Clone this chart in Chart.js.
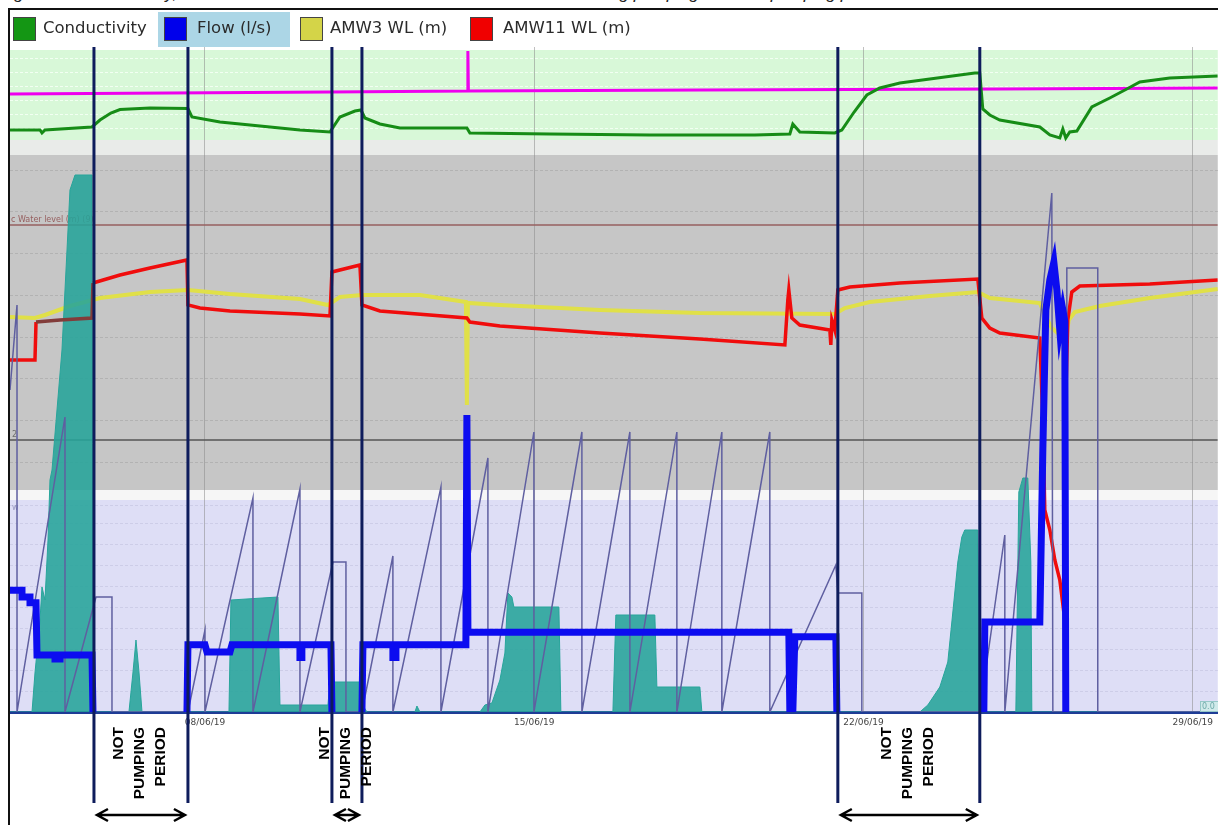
<!DOCTYPE html>
<html>
<head>
<meta charset="utf-8">
<script src="https://cdn.jsdelivr.net/npm/chart.js@4"></script>
<style>
  html, body { margin: 0; padding: 0; background: #fff; }
  #wrap { position: relative; width: 1218px; height: 825px; overflow: hidden; }
  #chart { position: absolute; left: 0; top: 0; }
  .caption { position: absolute; left: 0; top: -16px; font: italic 17px "Liberation Sans", sans-serif; color: #222; white-space: nowrap; }
  .frame { position: absolute; left: 8px; top: 8px; width: 1214px; height: 830px; border-top: 2px solid #111; border-left: 2px solid #111; pointer-events: none; }
  .hl { position: absolute; top: 12px; height: 35px; width: 132px; background: rgb(172, 214, 230); }
  .sw { position: absolute; top: 17px; width: 23px; height: 24px; border: 1px solid #444; box-sizing: border-box; }
  .lt { position: absolute; top: 18px; font: 16.5px "DejaVu Sans", sans-serif; color: #2b2b2b; white-space: nowrap; }
</style>
</head>
<body>
<div id="wrap">
  <div class="caption">Figure 12: Conductivity, flow and water level trends recorded at the bore field during pumping and non-pumping periods</div>
  <canvas id="chart" width="1218" height="825"></canvas>
  <div class="frame"></div>
  <div class="hl" style="left:158px"></div>
  <div class="sw" style="left:13px;background:rgb(20,150,20)"></div>
  <div class="lt" style="left:43px">Conductivity</div>
  <div class="sw" style="left:164px;background:rgb(0,0,235)"></div>
  <div class="lt" style="left:197px">Flow (l/s)</div>
  <div class="sw" style="left:300px;background:rgb(212,212,72)"></div>
  <div class="lt" style="left:330px">AMW3 WL (m)</div>
  <div class="sw" style="left:470px;background:rgb(240,0,0)"></div>
  <div class="lt" style="left:503px">AMW11 WL (m)</div>
</div>
<script>
// x values are days of June 2019
const dayMin = 3.855, dayMax = 29.531;
const tickDays = [8, 15, 22, 29];
const tickLabels = ['08/06/19', '15/06/19', '22/06/19', '29/06/19'];
const notPumping = [[5.640, 7.638], [10.699, 11.337], [21.454, 24.472]];

// conductivity (uS/cm)
const conductivity = [[3.855,1164],[4.493,1164],[4.535,1158],[4.599,1164],[5.598,1170],[5.768,1184],[6.000,1198],[6.193,1205],[6.831,1208],
  [7.638,1207],[7.723,1190],[8.319,1180],[8.957,1174],[10.019,1164],[10.657,1160],[10.869,1190],[11.188,1202],[11.316,1204],
  [11.400,1188],[11.719,1176],[12.144,1168],[13.568,1168],[13.632,1158],[15.333,1156],[17.458,1154],[19.690,1154],[20.434,1156],[20.497,1176],
  [20.646,1160],[21.390,1158],[21.539,1164],[21.800,1200],[22.071,1234],[22.347,1248],[22.772,1258],[24.366,1278],[24.472,1278],[24.536,1206],[24.685,1194],
  [24.897,1184],[25.748,1170],[25.961,1154],[26.173,1148],[26.237,1166],[26.300,1148],[26.385,1160],[26.535,1162],[26.854,1210],
  [27.235,1228],[27.597,1246],[27.874,1260],[28.511,1268],[29.531,1272]];
const ecLimit = [[3.855,1236],[10.657,1240],[13.589,1242],[13.589,1322],[13.600,1242],[18.521,1244],[24.897,1246],[29.531,1248]];

// water levels (m)
const amw11 = [[3.855,3.52],[4.386,3.52],[4.408,3.90],[4.918,3.92],[5.598,3.94],[5.619,4.29],[6.193,4.37],[6.831,4.44],[7.617,4.52],
  [7.638,4.07],[7.893,4.04],[8.531,4.01],[10.019,3.98],[10.657,3.96],[10.699,4.40],[11.294,4.47],[11.337,4.07],[11.719,4.01],
  [13.568,3.94],[13.632,3.90],[14.270,3.86],[16.395,3.79],[18.521,3.73],[20.328,3.67],[20.391,4.12],[20.412,4.22],[20.476,3.94],
  [20.646,3.87],[21.284,3.82],[21.305,3.67],[21.327,3.92],[21.390,3.82],[21.454,4.22],[21.709,4.25],[22.772,4.29],[24.430,4.33],
  [24.515,3.94],[24.685,3.84],[24.897,3.79],[25.748,3.74],[25.812,2.92],[25.854,2.02],[25.961,1.82],[26.067,1.52],[26.173,1.32],
  [26.258,1.00],[26.300,3.12],[26.343,3.92],[26.428,4.20],[26.598,4.26],[28.086,4.28],[29.531,4.32]];
const amw3 = [[3.855,3.95],[4.386,3.94],[4.599,3.97],[5.130,4.06],[5.768,4.14],[6.831,4.20],[7.638,4.22],[8.531,4.18],[10.019,4.13],
  [10.614,4.07],[10.869,4.15],[11.337,4.17],[12.570,4.17],[13.547,4.10],[13.568,3.07],[13.590,4.09],[14.270,4.07],[16.395,4.02],
  [18.521,3.99],[21.390,3.98],[21.603,4.04],[22.134,4.10],[23.409,4.16],[24.430,4.20],[24.685,4.14],[25.748,4.09],[25.854,3.97],
  [26.003,3.84],[26.173,3.77],[26.300,3.72],[26.364,3.92],[26.492,4.00],[27.022,4.06],[28.086,4.14],[29.531,4.23]];
const waterLevelRef = 4.87;
const lowerRef = 2.72;

// flow (l/s)
const flow = [[3.855,2.90],[4.110,2.90],[4.110,2.74],[4.280,2.74],[4.280,2.60],[4.408,2.60],[4.429,1.36],[4.812,1.36],[4.812,1.26],
  [4.918,1.26],[4.918,1.36],[5.598,1.36],[5.619,0],[7.617,0],[7.638,1.60],[8.000,1.60],[8.042,1.43],[8.531,1.43],[8.574,1.60],
  [10.019,1.60],[10.019,1.30],[10.060,1.30],[10.060,1.60],[10.678,1.60],[10.699,0],[11.337,0],[11.358,1.60],[11.995,1.60],[11.995,1.30],
  [12.060,1.30],[12.060,1.60],[13.547,1.60],[13.568,7.07],[13.590,1.90],[20.412,1.90],[20.434,0],[20.497,0],[20.540,1.79],
  [21.412,1.79],[21.433,0],[24.558,0],[24.579,2.14],[25.748,2.14],[25.812,6.24],[25.876,9.57],[25.961,10.29],[26.046,10.71],
  [26.110,10.05],[26.173,9.10],[26.237,9.57],[26.279,9.30],[26.300,0],[29.531,0]];

// rainfall (mm)
const rainfall = [[3.855,0],[4.323,0],[4.386,3.9],[4.493,9.2],[4.535,12.5],[4.599,11.2],[4.663,17.2],[4.705,23.2],[4.748,24.2],
  [4.960,36.2],[5.067,46.2],[5.130,52.2],[5.237,53.7],[5.598,53.7],[5.619,0],[6.384,0],[6.470,4.0],[6.533,7.2],[6.597,4.0],[6.661,0],
  [8.510,0],[8.552,11.2],[9.551,11.5],[9.594,0.7],[10.614,0.7],[10.657,3.0],[11.294,3.0],[11.379,0.5],[11.443,0],[12.463,0],
  [12.506,0.6],[12.570,0],[13.845,0],[13.951,0.7],[14.100,0.9],[14.270,3.2],[14.376,5.9],[14.440,11.9],[14.525,11.5],[14.567,10.5],
  [15.524,10.5],[15.566,0],[16.672,0],[16.735,9.7],[17.564,9.7],[17.607,2.5],[18.521,2.5],[18.563,0],[23.197,0],[23.367,0.7],
  [23.622,2.5],[23.792,5.0],[23.899,10.0],[24.005,15.0],[24.090,17.5],[24.153,18.2],[24.430,18.2],[24.472,0],[25.238,0],
  [25.302,22.0],[25.387,23.4],[25.493,23.4],[25.557,15.0],[25.578,0],[29.531,0]];

// cumulative pumped volume counter
const cumulative = [[3.855,32.2],[4.004,40.7],[4.004,0],[5.024,29.5],[5.024,0],[5.683,11.5],[6.023,11.5],[6.023,0],[7.638,0],
  [8.000,8.2],[8.000,0],[9.020,21.4],[9.020,0],[10.019,22.3],[10.019,0],[10.720,15.0],[10.997,15.0],[10.997,0],[11.337,0],
  [11.995,15.6],[11.995,0],[13.016,22.5],[13.016,0],[14.015,25.4],[14.015,0],[14.993,28.0],[14.993,0],[16.013,28.0],[16.013,0],
  [17.033,28.0],[17.033,0],[18.032,28.0],[18.032,0],[18.988,28.0],[18.988,0],[20.008,28.0],[20.008,0],[21.412,14.7],[21.454,11.9],
  [21.964,11.9],[21.964,0],[24.472,0],[25.004,17.7],[25.004,0],[26.003,51.9],[26.025,0],[26.322,0],[26.322,44.4],[26.980,44.4],
  [26.980,0],[29.531,0]];

const pts = a => a.map(([x, y]) => ({x, y}));

// background panels, in water-level axis units
const bands = [
  [6.62, 5.72, 'rgb(216,248,216)'],
  [5.72, 5.57, 'rgb(233,235,233)'],
  [5.57, 2.22, 'rgb(198,198,198)'],
  [2.22, 2.12, 'rgb(246,246,246)'],
  [2.12, 0, 'rgb(222,222,246)']
];
const greenRows = [6.54, 6.40, 6.26, 6.12, 5.98, 5.84];
const greyRows = [5.42, 5.01, 4.59, 4.17, 3.75, 3.34, 2.92, 2.50];
const blueRows = [2.07, 1.89, 1.68, 1.47, 1.26, 1.05, 0.84, 0.63, 0.42, 0.21];

const panels = {
  id: 'panels',
  beforeDraw(chart) {
    const {ctx, chartArea: a, scales: {yWL}} = chart;
    ctx.save();
    bands.forEach(([t, b, c]) => {
      const y1 = yWL.getPixelForValue(t), y2 = yWL.getPixelForValue(b);
      ctx.fillStyle = c;
      ctx.fillRect(a.left, y1, a.width, y2 - y1);
    });
    const rows = (vals, color) => {
      ctx.strokeStyle = color;
      ctx.lineWidth = 1;
      ctx.setLineDash([3, 2]);
      vals.forEach(v => {
        const y = Math.round(yWL.getPixelForValue(v)) + 0.5;
        ctx.beginPath(); ctx.moveTo(a.left, y); ctx.lineTo(a.right, y); ctx.stroke();
      });
    };
    rows(greenRows, 'rgba(245,255,245,0.9)');
    rows(greyRows, 'rgb(178,178,178)');
    rows(blueRows, 'rgb(205,205,232)');
    ctx.restore();
  },
  beforeDatasetsDraw(chart) {
    const {ctx, scales: {yWL}, chartArea: a} = chart;
    ctx.save();
    ctx.font = '8px "DejaVu Sans"';
    ctx.textBaseline = 'bottom';
    ctx.fillStyle = 'rgb(150,95,95)';
    ctx.fillText('c Water level (m) (9)', a.left + 1, yWL.getPixelForValue(waterLevelRef) - 1);
    ctx.fillStyle = 'rgb(110,110,110)';
    ctx.fillText('2', a.left + 2, yWL.getPixelForValue(lowerRef) - 1);
    ctx.fillStyle = 'rgb(150,150,190)';
    ctx.fillText('w', a.left + 2, yWL.getPixelForValue(2.0));
    ctx.restore();
  },
  afterDraw(chart) {
    const {ctx, scales: {x}} = chart;
    ctx.save();
    // period boundaries
    ctx.strokeStyle = '#0e1c5c';
    ctx.lineWidth = 3;
    notPumping.forEach(p => p.forEach(d => {
      const px = x.getPixelForValue(d);
      ctx.beginPath(); ctx.moveTo(px, 47); ctx.lineTo(px, 803); ctx.stroke();
    }));
    // labels and arrows
    ctx.fillStyle = '#000';
    ctx.strokeStyle = '#000';
    ctx.font = 'bold 15.5px "Liberation Sans", Arial, sans-serif';
    ctx.textAlign = 'right';
    ctx.textBaseline = 'middle';
    notPumping.forEach(([s, e]) => {
      const x1 = x.getPixelForValue(s), x2 = x.getPixelForValue(e);
      const c = (x1 + x2) / 2 - 1;
      ['NOT', 'PUMPING', 'PERIOD'].forEach((w, i) => {
        ctx.save();
        ctx.translate(c + (i - 1) * 21, 727);
        ctx.rotate(-Math.PI / 2);
        ctx.fillText(w, 0, 0);
        ctx.restore();
      });
      const y = 815, l = x1 + 3, r = x2 - 3;
      ctx.lineWidth = 2.5;
      ctx.beginPath();
      ctx.moveTo(l, y); ctx.lineTo(r, y);
      ctx.moveTo(l + 11, y - 6); ctx.lineTo(l, y); ctx.lineTo(l + 11, y + 6);
      ctx.moveTo(r - 11, y - 6); ctx.lineTo(r, y); ctx.lineTo(r - 11, y + 6);
      ctx.stroke();
    });
    // axis value box
    ctx.fillStyle = 'rgb(208,234,234)';
    ctx.fillRect(1200, 701, 18, 11);
    ctx.strokeStyle = 'rgb(150,200,200)';
    ctx.lineWidth = 1;
    ctx.strokeRect(1200.5, 701.5, 18, 10);
    ctx.fillStyle = 'rgb(110,170,170)';
    ctx.font = '8px "DejaVu Sans"';
    ctx.textAlign = 'left';
    ctx.fillText('0.0', 1202, 707);
    ctx.restore();
  }
};

const line = (label, data, color, width, axis, order, extra = {}) => Object.assign({
  label, data: pts(data), borderColor: color, backgroundColor: color, borderWidth: width,
  yAxisID: axis, order, pointRadius: 0, tension: 0, fill: false
}, extra);

new Chart(document.getElementById('chart'), {
  type: 'line',
  data: {
    datasets: [
      line('Flow (l/s)', flow, 'rgb(12,12,240)', 7, 'yQ', 1, {
        borderJoinStyle: 'miter',
        segment: {borderColor: c => (c.p0.parsed.y === 0 && c.p1.parsed.y === 0) ? 'rgba(0,0,0,0)' : undefined}
      }),
      line('Counter', cumulative, 'rgb(95,95,160)', 1.5, 'yCum', 2),
      line('AMW11 WL (m)', amw11, 'rgb(240,12,12)', 3.5, 'yWL', 3, {
        segment: {borderColor: c => (c.p0.parsed.x > 4.40 && c.p0.parsed.x < 5.6) ? 'rgb(130,60,58)' : undefined}
      }),
      line('Rainfall', rainfall, 'rgb(40,165,155)', 1, 'yR', 4, {fill: 'origin', backgroundColor: 'rgba(38,164,154,0.88)'}),
      line('AMW3 WL (m)', amw3, 'rgb(224,224,72)', 4, 'yWL', 5),
      line('Conductivity', conductivity, 'rgb(22,140,22)', 3, 'yC', 6),
      line('EC limit', ecLimit, 'rgb(238,0,238)', 3, 'yC', 7),
      line('Water level ref', [[dayMin, waterLevelRef], [dayMax, waterLevelRef]], 'rgb(150,95,95)', 1.5, 'yWL', 8),
      line('Lower ref', [[dayMin, lowerRef], [dayMax, lowerRef]], 'rgb(85,85,85)', 1.5, 'yWL', 9)
    ]
  },
  options: {
    responsive: false,
    animation: false,
    events: [],
    layout: {padding: {top: 47, left: 10, right: 0, bottom: 0}},
    plugins: {legend: {display: false}, tooltip: {enabled: false}},
    scales: {
      x: {
        type: 'linear', min: dayMin, max: dayMax,
        afterBuildTicks: s => { s.ticks = tickDays.map(v => ({value: v})); },
        afterFit: s => { s.height = 113; },
        ticks: {
          callback: (v, i) => tickLabels[i],
          font: {family: 'DejaVu Sans', size: 9}, color: '#444', padding: 5,
          maxRotation: 0, autoSkip: false
        },
        grid: {color: 'rgba(140,140,140,0.55)', lineWidth: 1, drawTicks: false},
        border: {color: 'rgb(30,60,150)', width: 3}
      },
      yWL: {display: false, min: 0, max: 6.65},
      yQ: {display: false, min: 0, max: 15.833},
      yR: {display: false, min: 0, max: 66.5},
      yC: {display: false, min: 0, max: 1330},
      yCum: {display: false, min: 0, max: 66.5}
    }
  },
  plugins: [panels]
});
</script>
</body>
</html>
